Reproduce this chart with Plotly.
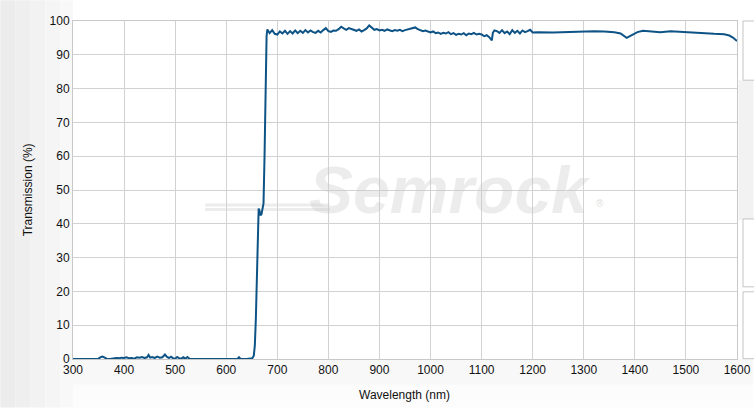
import plotly.graph_objects as go

# ---- data ----
wl_low = [300, 340, 350, 355, 358, 362, 366, 372, 380, 385, 390, 395, 400, 405, 410,
          415, 420, 425, 430, 435, 440, 445, 448, 451, 455, 460, 465, 470, 475, 480,
          484, 488, 492, 496, 500, 504, 508, 512, 516, 520, 524, 528, 535, 545, 600,
          622, 625, 628, 640, 648]
t_low = [0, 0, 0.1, 0.6, 0.7, 0.4, 0.1, 0, 0.2, 0.3, 0.2, 0.4, 0.3, 0.5, 0.2,
         0.3, 0.1, 0.5, 0.4, 0.6, 0.3, 0.5, 1.2, 0.4, 0.6, 0.3, 0.7, 0.4, 0.5, 1.3,
         0.6, 0.3, 0.7, 0.2, 0.1, 0.6, 0.2, 0.1, 0.5, 0.1, 0.6, 0.1, 0, 0, 0,
         0, 0.5, 0, 0, 0]

wl_edge = [651, 654, 656, 658, 660, 662, 663.5, 665, 667, 669, 671, 673, 675, 677, 679, 680.5]
t_edge = [0.2, 1, 4, 12, 28, 40, 44.5, 44, 42.5, 42.8, 44, 46, 60, 85, 95.5, 97.5]

wl_pass = [685, 690, 695, 700, 705, 710, 715, 720, 725, 730, 735, 740, 745, 750, 755,
           760, 765, 770, 775, 780, 785, 790, 795, 800, 805, 810, 815, 820, 825, 830,
           835, 840, 845, 850, 855, 860, 865, 870, 875, 880, 885, 890, 895, 900, 905,
           910, 915, 920, 925, 930, 935, 940, 945, 950, 955, 960, 965, 970, 975, 980,
           985, 990, 995, 1000, 1005, 1010, 1015, 1020, 1025, 1030, 1035, 1040, 1045,
           1050, 1055, 1060, 1065, 1070, 1075, 1080, 1085, 1090, 1095, 1100, 1105,
           1110, 1115, 1118, 1120, 1122, 1125, 1130, 1135, 1140, 1145, 1150, 1155,
           1160, 1165, 1170, 1175, 1180, 1185, 1190, 1195, 1200]
t_pass = [96.4, 97.3, 96.2, 96.0, 96.9, 96.3, 97.1, 96.2, 97.0, 96.3, 97.2, 96.4, 97.1, 96.5, 97.3,
          96.6, 97.2, 96.7, 96.5, 97.1, 96.6, 97.3, 97.9, 97.0, 96.8, 97.2, 97.1, 97.6, 98.3, 97.8,
          97.4, 97.9, 97.6, 97.3, 97.1, 97.5, 96.9, 97.3, 97.8, 98.7, 97.9, 97.4, 97.6, 97.2, 97.4,
          97.1, 97.5, 97.2, 97.0, 97.3, 97.1, 97.4, 97.0, 97.3, 97.5, 97.6, 97.8, 98.1, 97.6, 97.3,
          97.0, 97.2, 96.8, 96.6, 96.9, 96.4, 96.6, 96.2, 96.5, 96.3, 96.7, 96.1, 96.4,
          95.9, 96.2, 96.0, 96.4, 95.8, 96.3, 96.1, 96.5, 96.0, 96.2, 96.0, 95.5,
          95.8, 95.2, 94.6, 94.3, 96.5, 97.2, 97.0, 96.5, 97.3, 96.4, 96.9, 96.1,
          97.3, 96.5, 97.1, 96.3, 97.2, 96.7, 97.0, 97.4, 96.6]

wl_ir = [1210, 1240, 1260, 1280, 1300, 1320, 1340, 1360, 1372, 1384, 1395, 1405, 1416,
         1435, 1450, 1470, 1490, 1505, 1530, 1555, 1575, 1585, 1592, 1600]
t_ir = [96.7, 96.6, 96.7, 96.9, 96.9, 97.0, 96.9, 96.7, 96.3, 95.0, 95.9, 96.7, 97.1,
        96.9, 96.7, 97.0, 96.8, 96.5, 96.3, 96.2, 96.1, 95.7, 95.1, 94.1]

wavelength = wl_low + wl_edge + wl_pass + wl_ir
transmission = t_low + t_edge + t_pass + t_ir

x_ticks = list(range(300, 1601, 100))
y_ticks = list(range(0, 101, 10))

# ---- figure ----
fig = go.Figure()
fig.add_trace(go.Scatter(x=wavelength, y=transmission, mode="lines",
                         line=dict(color="#0d5386", width=2), hoverinfo="skip",
                         showlegend=False))

# plot area geometry (pixels) for paper-coord decorations
L, R, T, B = 72.7, 737.5, 20.7, 359.3
W, H = R - L, B - T
def px(xp):
    return (xp - L) / W
def py(yp):
    return (B - yp) / H

shapes = []
# left gray gradient strips
greys = ["#ececec", "#efefef", "#f2f2f2", "#f5f5f5", "#f8f8f8"]
edges = [0, 15, 30, 45, 60, 72.7]
for i, g in enumerate(greys):
    shapes.append(dict(type="rect", xref="paper", yref="paper", layer="below",
                       x0=px(edges[i]), x1=px(edges[i + 1]), y0=py(408), y1=py(0),
                       fillcolor=g, line=dict(width=0)))
# bottom strip
shapes.append(dict(type="rect", xref="paper", yref="paper", layer="below",
                   x0=px(72.7), x1=px(754), y0=py(385), y1=py(359.3),
                   fillcolor="#f8f8f8", line=dict(width=0)))
shapes.append(dict(type="rect", xref="paper", yref="paper", layer="below",
                   x0=px(72.7), x1=px(754), y0=py(408), y1=py(385),
                   fillcolor="#fcfcfc", line=dict(width=0)))
# right side gray and cut-off panels
shapes.append(dict(type="rect", xref="paper", yref="paper", layer="below",
                   x0=px(739), x1=px(754), y0=py(220), y1=py(80),
                   fillcolor="#f2f2f2", line=dict(width=0)))
for (a, b) in [(20.7, 80), (219, 287), (292, 359)]:
    shapes.append(dict(type="rect", xref="paper", yref="paper", layer="above",
                       x0=px(743.5), x1=px(760), y0=py(b), y1=py(a),
                       fillcolor="white", line=dict(color="#c4c4c4", width=1)))
# watermark swoosh
shapes.append(dict(type="rect", xref="paper", yref="paper", layer="below",
                   x0=px(205), x1=px(330), y0=py(206.5), y1=py(203.5),
                   fillcolor="#ececec", line=dict(width=0)))
shapes.append(dict(type="rect", xref="paper", yref="paper", layer="below",
                   x0=px(205), x1=px(330), y0=py(211), y1=py(208),
                   fillcolor="#ececec", line=dict(width=0)))

annotations = [
    dict(text="Semrock", xref="paper", yref="paper", x=px(450), y=py(190),
         xanchor="center", yanchor="middle", showarrow=False,
         font=dict(family="Liberation Sans", size=66, color="rgba(200,200,200,0.35)",
                   style="italic", weight="bold")),
    dict(text="®", xref="paper", yref="paper", x=px(600), y=py(204),
         xanchor="center", yanchor="middle", showarrow=False,
         font=dict(family="Liberation Sans", size=10, color="rgba(190,190,190,0.5)")),
    dict(text="Wavelength (nm)", xref="paper", yref="paper", x=px(405), y=py(395),
         xanchor="center", yanchor="middle", showarrow=False,
         font=dict(family="Liberation Sans", size=12, color="#111111")),
    dict(text="Transmission (%)", xref="paper", yref="paper", x=px(28), y=py(190),
         xanchor="center", yanchor="middle", showarrow=False, textangle=-90,
         font=dict(family="Liberation Sans", size=12, color="#111111")),
]

fig.update_layout(
    width=754, height=408,
    margin=dict(l=L, r=754 - R, t=T, b=408 - B, autoexpand=False),
    paper_bgcolor="white", plot_bgcolor="white",
    font=dict(family="Liberation Sans", size=12, color="#111111"),
    shapes=shapes, annotations=annotations,
    xaxis=dict(range=[300, 1600], tickvals=x_ticks, ticktext=[str(v) for v in x_ticks],
               showgrid=True, gridcolor="#d2d2d2", gridwidth=1, zeroline=False,
               showline=True, linecolor="#c8c8c8", mirror=True, ticks="",
               automargin=False),
    yaxis=dict(range=[0, 100], tickvals=y_ticks, ticktext=[str(v) for v in y_ticks],
               showgrid=True, gridcolor="#d2d2d2", gridwidth=1, zeroline=False,
               showline=True, linecolor="#c8c8c8", mirror=True, ticks="",
               automargin=False),
)

fig.write_html("out.html", config={"displayModeBar": False},
               post_script="document.body.style.margin='0px';")
